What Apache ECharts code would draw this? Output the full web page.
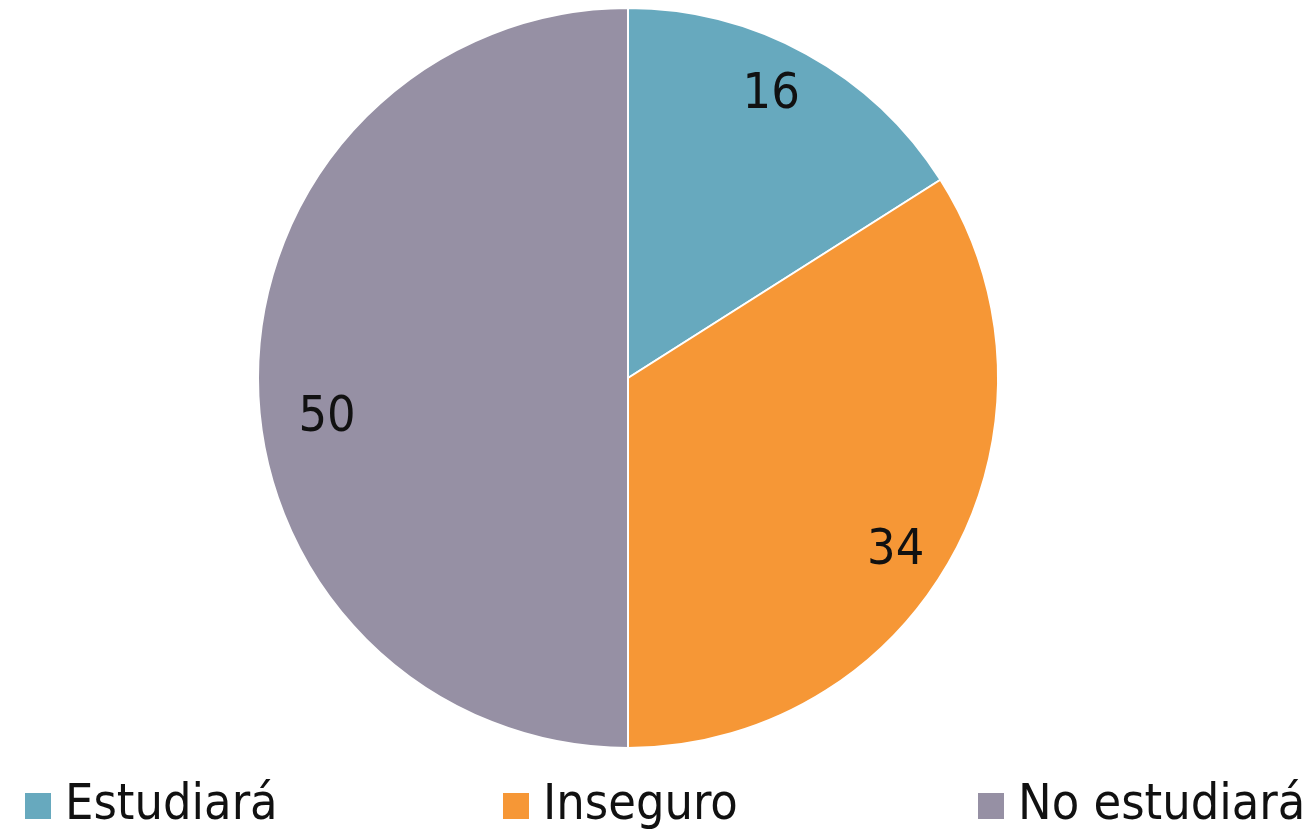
<!DOCTYPE html>
<html><head><meta charset="utf-8">
<script src="https://cdn.jsdelivr.net/npm/echarts@6/dist/echarts.min.js"></script>
<style>html,body{margin:0;padding:0;background:#fff}#c{width:1313px;height:832px}</style>
</head><body><div id="c"></div>
<script>
const categories = ['Estudiará', 'Inseguro', 'No estudiará'];
const values = [16, 34, 50];
const colors = ['#67A9BE', '#F69736', '#9690A4'];
const FONT = '"Liberation Sans Narrow", "DejaVu Sans Condensed", "Noto Sans", sans-serif';
const labelNudge = [[-10, -4], [-11, 20], [17, 40]];

const data = categories.map((c, i) => ({ name: c, value: values[i], itemStyle: { color: colors[i] } }));
const chart = echarts.init(document.getElementById('c'));
const legendBase = {
  top: 776, itemWidth: 28, itemHeight: 28, icon: 'rect',
  textStyle: { fontFamily: FONT, fontSize: 50, color: '#111', padding: [0, 0, 0, 8] },
  selectedMode: false
};
chart.setOption({
  animation: false,
  legend: [
    Object.assign({}, legendBase, { left: 18, data: [categories[0]] }),
    Object.assign({}, legendBase, { left: 496, data: [categories[1]] }),
    Object.assign({}, legendBase, { left: 971, data: [categories[2]] })
  ],
  series: [
    {
      type: 'pie', center: [628, 378], radius: [0, 370], startAngle: 90, clockwise: true,
      data: data, label: { show: false }, labelLine: { show: false },
      itemStyle: { borderColor: '#fff', borderWidth: 2 }, silent: true
    },
    {
      type: 'pie', center: [628, 378], radius: [260, 370], startAngle: 90, clockwise: true,
      data: data.map((d, i) => ({ name: d.name, value: d.value, itemStyle: { color: 'rgba(0,0,0,0)' }, label: { offset: labelNudge[i] } })),
      label: { show: true, position: 'inside', formatter: '{c}', fontFamily: FONT, fontSize: 50, color: '#111' },
      labelLine: { show: false }, silent: true, legendHoverLink: false
    }
  ]
});
</script></body></html>
